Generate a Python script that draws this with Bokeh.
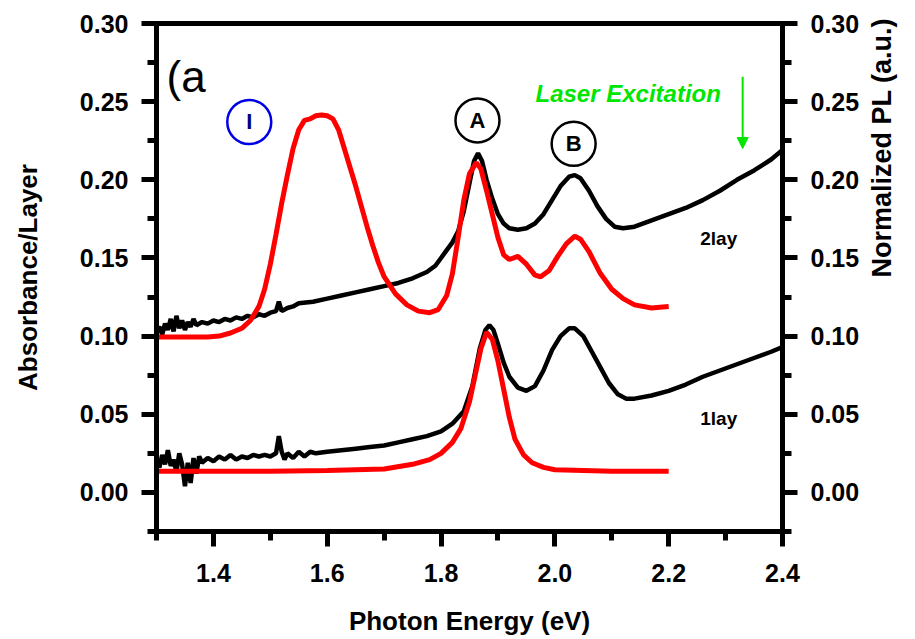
import math
from bokeh.plotting import figure
from bokeh.models import Range1d, LinearAxis, FixedTicker, Label, Arrow, NormalHead
from bokeh.embed import file_html
from bokeh.resources import INLINE

# ---------------- data ----------------
# Absorbance, bilayer (2lay)
abs2_x = [1.300, 1.305, 1.310, 1.315, 1.320, 1.325, 1.330, 1.335, 1.340, 1.345,
          1.350, 1.355, 1.360, 1.365, 1.370, 1.380, 1.390, 1.400, 1.410, 1.420,
          1.430, 1.440, 1.450, 1.460, 1.470, 1.480, 1.490, 1.500, 1.510, 1.515,
          1.520, 1.530, 1.540, 1.550, 1.575, 1.600, 1.625, 1.650, 1.675, 1.700,
          1.725, 1.750, 1.775, 1.790, 1.800, 1.810, 1.820, 1.830, 1.840, 1.850,
          1.858, 1.865, 1.872, 1.880, 1.890, 1.900, 1.910, 1.920, 1.935, 1.950,
          1.965, 1.980, 1.995, 2.010, 2.025, 2.035, 2.045, 2.060, 2.075, 2.090,
          2.105, 2.120, 2.140, 2.170, 2.200, 2.230, 2.260, 2.290, 2.320, 2.350,
          2.380, 2.400]
abs2_y = [0.103, 0.106, 0.101, 0.108, 0.104, 0.111, 0.103, 0.113, 0.105, 0.110,
          0.104, 0.109, 0.106, 0.111, 0.107, 0.109, 0.108, 0.110, 0.109, 0.111,
          0.110, 0.112, 0.111, 0.113, 0.112, 0.114, 0.113, 0.115, 0.116, 0.122,
          0.116, 0.118, 0.119, 0.121, 0.122, 0.124, 0.126, 0.128, 0.130, 0.132,
          0.134, 0.137, 0.141, 0.145, 0.150, 0.155, 0.160, 0.167, 0.180, 0.198,
          0.212, 0.217, 0.212, 0.200, 0.188, 0.178, 0.172, 0.169, 0.168, 0.169,
          0.172, 0.178, 0.187, 0.196, 0.202, 0.203, 0.201, 0.193, 0.183, 0.175,
          0.170, 0.169, 0.170, 0.174, 0.178, 0.182, 0.187, 0.193, 0.200, 0.206,
          0.213, 0.219]

# Absorbance, monolayer (1lay)
abs1_x = [1.300, 1.305, 1.310, 1.315, 1.320, 1.325, 1.330, 1.335, 1.340, 1.345,
          1.350, 1.355, 1.360, 1.365, 1.370, 1.375, 1.380, 1.390, 1.400, 1.410,
          1.420, 1.430, 1.440, 1.450, 1.460, 1.470, 1.480, 1.490, 1.500, 1.510,
          1.515, 1.520, 1.525, 1.530, 1.540, 1.550, 1.560, 1.570, 1.580, 1.600,
          1.625, 1.650, 1.675, 1.700, 1.725, 1.750, 1.775, 1.800, 1.820, 1.840,
          1.855, 1.868, 1.878, 1.885, 1.892, 1.900, 1.910, 1.920, 1.935, 1.950,
          1.965, 1.980, 1.995, 2.010, 2.025, 2.035, 2.050, 2.065, 2.080, 2.095,
          2.110, 2.125, 2.140, 2.170, 2.200, 2.230, 2.260, 2.290, 2.320, 2.350,
          2.380, 2.400]
abs1_y = [0.020, 0.016, 0.024, 0.018, 0.027, 0.017, 0.021, 0.013, 0.025, 0.018,
          0.004, 0.019, 0.006, 0.022, 0.012, 0.023, 0.019, 0.022, 0.020, 0.023,
          0.021, 0.024, 0.021, 0.023, 0.022, 0.024, 0.023, 0.024, 0.023, 0.025,
          0.036, 0.026, 0.021, 0.025, 0.022, 0.026, 0.023, 0.026, 0.025, 0.026,
          0.027, 0.028, 0.029, 0.030, 0.032, 0.034, 0.036, 0.039, 0.044, 0.052,
          0.068, 0.092, 0.104, 0.107, 0.104, 0.095, 0.083, 0.074, 0.067, 0.065,
          0.068, 0.078, 0.091, 0.100, 0.105, 0.105, 0.100, 0.090, 0.080, 0.070,
          0.063, 0.060, 0.060, 0.062, 0.065, 0.069, 0.074, 0.078, 0.082, 0.086,
          0.090, 0.093]

# Normalized PL, bilayer (offset)
pl2_x = [1.30, 1.35, 1.39, 1.41, 1.43, 1.45, 1.465, 1.48, 1.49, 1.50,
         1.51, 1.52, 1.53, 1.54, 1.55, 1.56, 1.57, 1.58, 1.59, 1.60,
         1.61, 1.62, 1.63, 1.64, 1.65, 1.66, 1.67, 1.68, 1.69, 1.70,
         1.72, 1.74, 1.76, 1.78, 1.795, 1.81, 1.82, 1.83, 1.84, 1.85,
         1.862, 1.87, 1.88, 1.89, 1.90, 1.91, 1.92, 1.935, 1.95, 1.965,
         1.975, 1.99, 2.005, 2.02, 2.035, 2.045, 2.06, 2.08, 2.10, 2.12,
         2.14, 2.17, 2.20]
pl2_y = [0.0995, 0.0995, 0.0995, 0.100, 0.102, 0.105, 0.110, 0.119, 0.130, 0.146,
         0.165, 0.185, 0.203, 0.220, 0.232, 0.238, 0.239, 0.241, 0.2415, 0.241,
         0.239, 0.232, 0.220, 0.208, 0.196, 0.183, 0.170, 0.158, 0.147, 0.138,
         0.127, 0.120, 0.116, 0.115, 0.117, 0.126, 0.140, 0.163, 0.187, 0.204,
         0.211, 0.207, 0.193, 0.178, 0.163, 0.152, 0.149, 0.151, 0.146, 0.139,
         0.138, 0.142, 0.151, 0.159, 0.164, 0.162, 0.154, 0.140, 0.130, 0.124,
         0.120, 0.118, 0.119]

# Normalized PL, monolayer
pl1_x = [1.30, 1.50, 1.60, 1.70, 1.75, 1.78, 1.80, 1.82, 1.835, 1.85,
         1.86, 1.87, 1.88, 1.89, 1.90, 1.91, 1.92, 1.93, 1.945, 1.96,
         1.98, 2.00, 2.10, 2.20]
pl1_y = [0.0135, 0.0135, 0.014, 0.015, 0.018, 0.021, 0.025, 0.032, 0.041, 0.058,
         0.075, 0.092, 0.1025, 0.098, 0.084, 0.066, 0.048, 0.034, 0.024, 0.019,
         0.016, 0.0145, 0.0135, 0.0135]

x_major = [1.4, 1.6, 1.8, 2.0, 2.2, 2.4]
x_minor = [1.3, 1.5, 1.7, 1.9, 2.1, 2.3]
y_major = [0.00, 0.05, 0.10, 0.15, 0.20, 0.25, 0.30]
y_minor = [-0.025, 0.025, 0.075, 0.125, 0.175, 0.225, 0.275]
x_labels = ["1.4", "1.6", "1.8", "2.0", "2.2", "2.4"]
y_labels = ["0.00", "0.05", "0.10", "0.15", "0.20", "0.25", "0.30"]

peak_names = ["I", "A", "B"]
peak_x = [1.463, 1.864, 2.033]
peak_y = [0.237, 0.238, 0.223]
peak_colors = ["#0000e6", "black", "black"]
peak_text_colors = ["#000080", "black", "black"]

FONT = "Liberation Sans"

# ---------------- figure ----------------
p = figure(width=915, height=639, output_backend="svg", toolbar_location=None,
           x_range=Range1d(1.3, 2.4), y_range=Range1d(-0.025, 0.30),
           min_border_left=156, min_border_right=133, min_border_top=23,
           min_border_bottom=108)
p.grid.visible = False
p.background_fill_color = "white"
p.border_fill_color = "white"
p.outline_line_color = "black"
p.outline_line_width = 5

right_axis = LinearAxis()
p.add_layout(right_axis, "right")


def style_axis(ax, major, minor, labels, size):
    ax.ticker = FixedTicker(ticks=major, minor_ticks=minor)
    ax.major_label_overrides = {float(v): t for v, t in zip(major, labels)}
    ax.axis_line_width = 5
    ax.axis_line_color = "black"
    ax.major_tick_line_width = 5
    ax.minor_tick_line_width = 5
    ax.major_tick_in = 0
    ax.major_tick_out = 15
    ax.minor_tick_in = 0
    ax.minor_tick_out = 9
    ax.major_label_text_font = FONT
    ax.major_label_text_font_style = "bold"
    ax.major_label_text_font_size = size
    ax.major_label_text_color = "black"
    ax.major_label_standoff = 13
    ax.axis_label_text_font = FONT
    ax.axis_label_text_font_style = "bold"
    ax.axis_label_text_color = "black"


style_axis(p.xaxis[0], x_major, x_minor, x_labels, "25px")
style_axis(p.yaxis[0], y_major, y_minor, y_labels, "25px")
style_axis(right_axis, y_major, y_minor, y_labels, "25px")

xa = p.xaxis[0]
xa.major_label_standoff = 17
xa.axis_label = "Photon Energy (eV)"
xa.axis_label_text_font_size = "26px"
xa.axis_label_standoff = 21

ya = p.yaxis[0]
ya.axis_label = "Absorbance/Layer"
ya.axis_label_text_font_size = "26px"
ya.axis_label_standoff = 34

right_axis.axis_label = "Normalized PL (a.u.)"
right_axis.axis_label_text_font_size = "27px"
right_axis.axis_label_standoff = 20
if "axis_label_orientation" in right_axis.properties():
    right_axis.axis_label_orientation = math.pi / 2

# curves
p.line(abs2_x, abs2_y, line_color="black", line_width=4.5)
p.line(abs1_x, abs1_y, line_color="black", line_width=4.5)
p.line(pl2_x, pl2_y, line_color="#ff0000", line_width=5)
p.line(pl1_x, pl1_y, line_color="#ff0000", line_width=5)

# peak markers
p.scatter(peak_x, peak_y, marker="circle", size=44, fill_color=None,
          line_color=peak_colors, line_width=2.5)
for name, px, py, c in zip(peak_names, peak_x, peak_y, peak_text_colors):
    p.add_layout(Label(x=px, y=py, text=name, text_align="center",
                       text_baseline="middle", text_font=FONT,
                       text_font_style="bold", text_font_size="22px",
                       text_color=c))

# panel tag
p.add_layout(Label(x=1.3176, y=0.266, text="(a", text_align="left",
                   text_baseline="alphabetic", text_font=FONT,
                   text_font_size="44px", text_color="black"))

# laser excitation
p.add_layout(Label(x=1.966, y=0.2554, text="Laser Excitation", text_align="left",
                   text_baseline="alphabetic", text_font=FONT,
                   text_font_style="bold italic", text_font_size="24px",
                   text_color="#00e600"))
p.add_layout(Arrow(end=NormalHead(size=11, fill_color="#00e600", line_color="#00e600"),
                   x_start=2.33, y_start=0.266, x_end=2.33, y_end=0.220,
                   line_color="#00e600", line_width=2))

# curve tags
p.add_layout(Label(x=2.288, y=0.1626, text="2lay", text_align="center",
                   text_baseline="alphabetic", text_font=FONT,
                   text_font_style="bold", text_font_size="19px", text_color="black"))
p.add_layout(Label(x=2.288, y=0.0474, text="1lay", text_align="center",
                   text_baseline="alphabetic", text_font=FONT,
                   text_font_style="bold", text_font_size="19px", text_color="black"))

open("out.html", "w").write(file_html(p, INLINE))
